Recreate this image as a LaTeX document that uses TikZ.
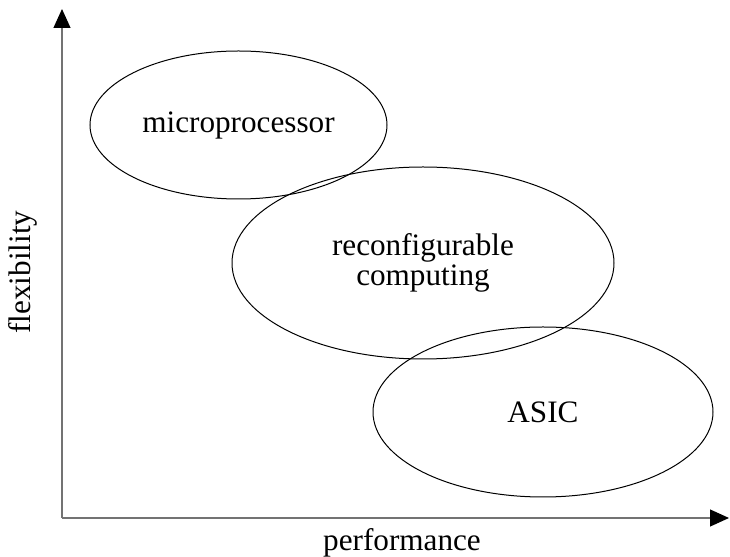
\documentclass[tikz,border=0pt]{standalone}
\usepackage{fontspec}
\setmainfont{Liberation Serif}
\usepackage{tikz}
\usetikzlibrary{shapes.geometric,arrows.meta}

\begin{document}
\begin{tikzpicture}[
x=0.5pt, y=0.5pt,
region/.style={draw=black, ellipse, line width=0.5pt, inner sep=0pt, align=center, font=\fontsize{15.6}{13.5}\selectfont},
axis/.style={-{Triangle[length=9.5pt, width=8.5pt, color=black]}, line width=0.6pt, draw=black!55},
axislabel/.style={font=\fontsize{15.6}{13.5}\selectfont}
]
\useasboundingbox (0,0) rectangle (730,557);
% axes
\coordinate (origin) at (62,39);
\coordinate (ytip) at (62,548);
\coordinate (xtip) at (729,39);
\draw[axis] (origin) -- (ytip);
\draw[axis] (origin) -- (xtip);
\node[axislabel, rotate=90] (flex) at (23,285) {flexibility};
\node[axislabel] (perf) at (402,14) {performance};
% regions
\node[region, minimum width=148.5pt, minimum height=74pt] (micro) at (238.5,432) {microprocessor};
\node[region, minimum width=191pt, minimum height=96pt] (reconf) at (423,294) {reconfigurable\\computing};
\node[region, minimum width=170pt, minimum height=85pt] (asic) at (543,145) {ASIC};
\end{tikzpicture}
\end{document}
